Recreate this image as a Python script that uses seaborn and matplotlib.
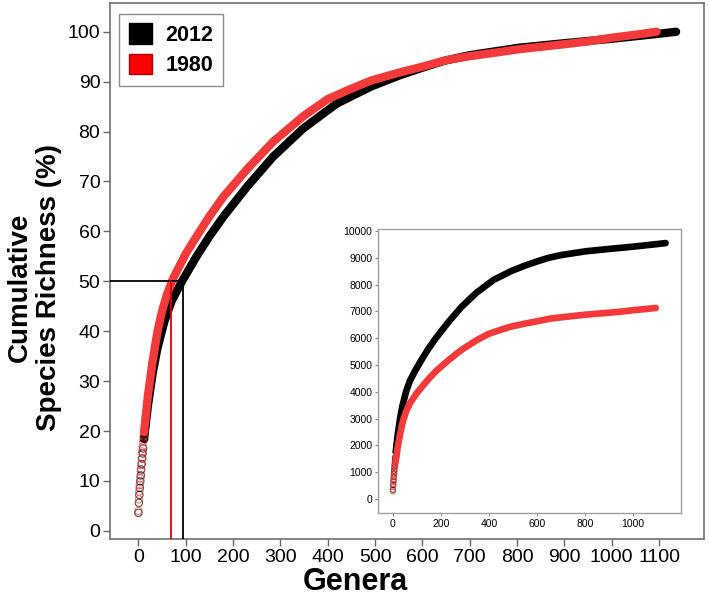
import numpy as np
import pandas as pd
import matplotlib
matplotlib.use("Agg")
import matplotlib.pyplot as plt
import seaborn as sns
from matplotlib.patches import Patch

sns.set_style("white")
plt.rcParams['font.family'] = ['Liberation Sans', 'DejaVu Sans']
plt.rcParams['text.color'] = 'black'
plt.rcParams['axes.labelcolor'] = 'black'
plt.rcParams['xtick.color'] = 'black'
plt.rcParams['ytick.color'] = 'black'

# ---- data ----
ranks_1980 = [0, 1, 2, 3, 4, 5, 6, 7, 8, 9, 10, 11, 12, 15, 20, 30, 41, 50, 60, 73,
              100, 123, 150, 180, 230, 285, 350, 400, 450, 491, 550, 600, 650, 700,
              768, 804, 900, 945, 1000, 1050, 1095]
pct_1980 = [4.0, 6.3, 7.9, 9.2, 10.5, 12.0, 13.2, 14.5, 15.9, 16.9, 17.9, 18.9, 19.8,
            22.5, 27.0, 34.0, 40.3, 44.0, 47.3, 50.5, 55.5, 59.0, 63.0, 67.0, 72.5,
            78.0, 83.2, 86.5, 88.6, 90.2, 91.8, 93.0, 94.3, 95.1, 96.0, 96.5, 97.5,
            98.0, 98.8, 99.4, 100.0]
ranks_2012 = [0, 1, 2, 3, 4, 5, 6, 7, 8, 9, 10, 12, 15, 20, 30, 40, 55, 70, 92, 123,
              150, 180, 230, 285, 348, 419, 491, 550, 600, 647, 700, 804, 900, 1000,
              1100, 1136]
pct_2012 = [3.6, 5.6, 7.2, 8.6, 9.9, 11.1, 12.3, 13.4, 14.5, 15.5, 16.5, 18.4, 21.0,
            25.0, 31.5, 36.5, 42.0, 46.0, 50.0, 55.0, 59.0, 63.0, 69.0, 75.0, 80.6,
            85.6, 89.0, 91.2, 92.8, 94.2, 95.3, 96.8, 97.7, 98.6, 99.6, 100.0]
total_species_2012 = 9550
total_species_1980 = 7130
half_genera_2012 = 94
half_genera_1980 = 69
series_names = ["2012", "1980"]
main_xticks = list(range(0, 1101, 100))
main_yticks = list(range(0, 101, 10))
inset_xticks = list(range(0, 1001, 200))
inset_yticks = list(range(0, 10001, 1000))

RED = "#f23a3a"
BLACK = "#000000"

df80 = pd.DataFrame({"Genera": ranks_1980, "pct": pct_1980})
df80["count"] = df80["pct"] * total_species_1980 / 100.0
df12 = pd.DataFrame({"Genera": ranks_2012, "pct": pct_2012})
df12["count"] = df12["pct"] * total_species_2012 / 100.0

fig = plt.figure(figsize=(7.09, 6.04), dpi=100)
ax = fig.add_axes([110/709, 64.7/604, 594/709, 536/604])

def draw(axx, ycol, lw_band, ms, start_rank):
    for df, col, z in [(df12, BLACK, 3), (df80, RED, 4)]:
        band = df[df["Genera"] >= start_rank]
        sns.lineplot(data=band, x="Genera", y=ycol, ax=axx, color=col,
                     linewidth=lw_band, solid_capstyle="round",
                     solid_joinstyle="round", zorder=z, legend=False)
        pts = df[df["Genera"] <= start_rank + 3]
        sns.scatterplot(data=pts, x="Genera", y=ycol, ax=axx, s=ms,
                        facecolor="none", edgecolor=col, linewidth=0.8,
                        alpha=0.7, zorder=z, legend=False)

draw(ax, "pct", 6.0, 28, 12)

# half-richness guide lines
ax.plot([-60, half_genera_2012], [50, 50], color="black", lw=1.3, zorder=5)
ax.plot([half_genera_2012, half_genera_2012], [-1.7, 50], color="black", lw=1.3, zorder=5)
ax.plot([half_genera_1980, half_genera_1980], [-1.7, 50], color="#e00000", lw=1.3, zorder=5)

ax.set_xlim(-60, 1195)
ax.set_ylim(-1.7, 105.7)
ax.set_xticks(main_xticks)
ax.set_yticks(main_yticks)
ax.tick_params(axis="both", labelsize=14, direction="out", length=5,
               width=1, color="#666666", labelcolor="black", pad=2,
               left=True, bottom=True)
for sp in ax.spines.values():
    sp.set_color("#707070")
    sp.set_linewidth(1.2)
ax.set_xlabel("Genera", fontsize=22, fontweight="bold", color="black")
ax.set_ylabel("Cumulative\nSpecies Richness (%)", fontsize=20, fontweight="bold",
              linespacing=1.15, color="black")
ax.xaxis.set_label_coords((355-110)/594, (539.3-567)/536)
ax.yaxis.set_label_coords((62-110)/594, (539.3-287)/536)

handles = [Patch(facecolor="black", edgecolor="black", label=series_names[0]),
           Patch(facecolor="#ff0000", edgecolor="#b00000", label=series_names[1])]
leg = ax.legend(handles=handles, loc="upper left", bbox_to_anchor=(9/594, 1-10.5/536),
                prop={"weight": "bold", "size": 15.5}, frameon=True, fancybox=False,
                handlelength=1.1, handleheight=1.1, handletextpad=0.6,
                borderpad=0.45, labelspacing=0.35, borderaxespad=0)
leg.get_frame().set_edgecolor("#707070")
leg.get_frame().set_linewidth(1.0)
for t in leg.get_texts():
    t.set_color("black")

# ---- inset ----
ins = fig.add_axes([378/709, (604-513)/604, 303/709, 284/604])
draw(ins, "count", 4.8, 14, 12)
ins.set_xlim(-62, 1200)
ins.set_ylim(-520, 10075)
ins.set_xticks(inset_xticks)
ins.set_yticks(inset_yticks)
ins.set_xlabel("")
ins.set_ylabel("")
ins.tick_params(axis="both", labelsize=7.5, direction="out", length=2.5,
                width=0.8, color="#888888", labelcolor="black", pad=1.5,
                left=True, bottom=True)
for sp in ins.spines.values():
    sp.set_color("#a0a0a0")
    sp.set_linewidth(1.0)

fig.savefig("out.png", dpi=100)
